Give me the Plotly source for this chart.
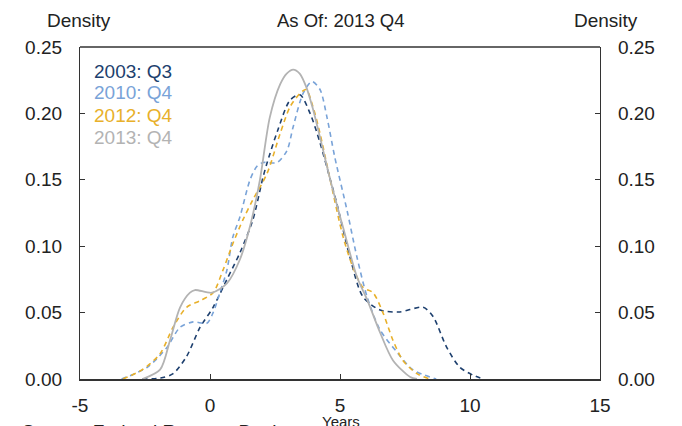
import plotly.graph_objects as go

# ---- data ----
x_2003 = [-2.6, -1.9, -1.42, -0.9, -0.38, 0.12, 0.65, 1.15, 1.65, 2.04, 2.2, 2.6, 3.08, 3.46, 3.85, 4.23, 4.6, 4.88, 5.38, 5.88, 6.54, 7.3, 8.2, 8.58, 9.1, 9.6, 10.1, 10.5]
d_2003 = [0.0, 0.0007, 0.004, 0.017, 0.039, 0.054, 0.075, 0.095, 0.12, 0.152, 0.163, 0.187, 0.21, 0.214, 0.2, 0.178, 0.152, 0.132, 0.092, 0.062, 0.052, 0.0505, 0.054, 0.047, 0.024, 0.009, 0.003, 0.0]

x_2010 = [-3.4, -2.4, -1.65, -1.15, -0.65, -0.12, 0.12, 0.38, 0.65, 0.88, 1.15, 1.54, 1.8, 2.04, 2.58, 2.96, 3.2, 3.58, 3.92, 4.23, 4.5, 4.8, 5.27, 5.65, 6.04, 6.54, 7.2, 7.8, 8.7]
d_2010 = [0.0, 0.009, 0.024, 0.039, 0.043, 0.042, 0.05, 0.065, 0.082, 0.107, 0.122, 0.15, 0.16, 0.163, 0.163, 0.172, 0.19, 0.215, 0.224, 0.218, 0.197, 0.167, 0.127, 0.092, 0.062, 0.037, 0.02, 0.007, 0.0]

x_2012 = [-3.35, -2.6, -1.92, -1.42, -0.9, -0.38, 0.12, 0.5, 0.88, 1.27, 1.65, 2.2, 2.7, 3.08, 3.46, 3.7, 3.96, 4.23, 4.6, 5.12, 5.5, 5.88, 6.27, 6.65, 7.04, 7.42, 7.96, 8.46]
d_2012 = [0.0, 0.007, 0.019, 0.039, 0.054, 0.059, 0.065, 0.082, 0.102, 0.12, 0.135, 0.155, 0.185, 0.205, 0.215, 0.218, 0.205, 0.185, 0.152, 0.107, 0.084, 0.069, 0.065, 0.05, 0.029, 0.014, 0.004, 0.0]

x_2013 = [-2.6, -1.92, -1.54, -1.15, -0.77, -0.58, 0.08, 0.65, 1.15, 1.54, 1.92, 2.3, 2.7, 2.95, 3.2, 3.45, 3.7, 3.95, 4.23, 4.6, 5.12, 5.65, 6.04, 6.54, 7.04, 7.7, 7.96]
d_2013 = [0.0, 0.007, 0.029, 0.054, 0.065, 0.067, 0.065, 0.072, 0.090, 0.115, 0.150, 0.197, 0.222, 0.230, 0.233, 0.230, 0.220, 0.204, 0.182, 0.152, 0.114, 0.077, 0.06, 0.035, 0.014, 0.0015, 0.0]

series_names = ["2003: Q3", "2010: Q4", "2012: Q4", "2013: Q4"]
series_colors = ["#1d3f6e", "#79a3d8", "#e8b02a", "#b3b3b3"]

x_ticks = [-5, 0, 5, 10, 15]
x_tick_labels = ["-5", "0", "5", "10", "15"]
y_ticks = [0.00, 0.05, 0.10, 0.15, 0.20, 0.25]
y_tick_labels = ["0.00", "0.05", "0.10", "0.15", "0.20", "0.25"]

FONT = "Liberation Sans, Arial, Helvetica, sans-serif"
FS = 19

fig = go.Figure()
all_x = [x_2003, x_2010, x_2012, x_2013]
all_d = [d_2003, d_2010, d_2012, d_2013]
for i, (xs, ds) in enumerate(zip(all_x, all_d)):
    fig.add_trace(go.Scatter(
        x=xs, y=ds, mode="lines", name=series_names[i],
        line=dict(color=series_colors[i], width=1.6 if i < 3 else 1.8,
                  dash="5px,4px" if i < 3 else "solid",
                  shape="spline", smoothing=0.8),
        hoverinfo="skip", showlegend=False,
    ))
# invisible trace for right axis
fig.add_trace(go.Scatter(x=[0], y=[0], yaxis="y2", mode="markers",
                         marker=dict(opacity=0), showlegend=False, hoverinfo="skip"))

axis_col = "#333333"
fig.update_layout(
    width=682, height=426,
    margin=dict(l=72, r=90, t=39, b=55),
    paper_bgcolor="white", plot_bgcolor="white",
    font=dict(family=FONT, size=FS, color="#222222"),
    xaxis=dict(range=[-5, 15], tickvals=x_ticks, ticktext=x_tick_labels,
               ticks="inside", ticklen=5,
               tickcolor=axis_col, showline=True, linecolor=axis_col, linewidth=2,
               showgrid=False, zeroline=False, ticklabelstandoff=8,
               tickfont=dict(size=FS)),
    yaxis=dict(range=[0, 0.25], tickvals=y_ticks, ticktext=y_tick_labels,
               ticks="inside", ticklen=5, tickcolor=axis_col,
               showline=True, linecolor=axis_col, linewidth=1.3,
               showgrid=False, zeroline=False, ticklabelstandoff=13,
               tickfont=dict(size=FS)),
    yaxis2=dict(range=[0, 0.25], tickvals=y_ticks, ticktext=y_tick_labels,
                overlaying="y", side="right", ticks="inside", ticklen=5,
                tickcolor=axis_col, showline=True, linecolor=axis_col, linewidth=1.3,
                showgrid=False, zeroline=False, ticklabelstandoff=13,
                tickfont=dict(size=FS)),
    shapes=[dict(type="line", xref="paper", yref="paper", x0=0, x1=1, y0=1, y1=1,
                 line=dict(color=axis_col, width=1.3))],
)

def py2paper(py):
    return (379 - py) / 332

def px2paper(px):
    return (px - 80) / 520

ann = []
ann.append(dict(text="As Of: 2013 Q4", xref="paper", yref="paper", x=px2paper(341),
                y=py2paper(20), yanchor="middle", showarrow=False, font=dict(size=18.5)))
ann.append(dict(text="Density", xref="paper", yref="paper", x=px2paper(45),
                y=py2paper(20), yanchor="middle", showarrow=False, font=dict(size=FS)))
ann.append(dict(text="Density", xref="paper", yref="paper", x=px2paper(640),
                y=py2paper(20), yanchor="middle", showarrow=False, font=dict(size=FS)))
ann.append(dict(text="Years", xref="paper", yref="paper", x=px2paper(341),
                y=py2paper(421), yanchor="middle", showarrow=False, font=dict(size=15)))
ann.append(dict(text="Source: Federal Reserve Bank", xref="paper", yref="paper",
                x=px2paper(20), xanchor="left", y=py2paper(431), yanchor="middle",
                showarrow=False, font=dict(size=19)))
for i, name in enumerate(series_names):
    py = 71 + 22 * i
    ann.append(dict(text=name, xref="paper", yref="paper", x=px2paper(92),
                    xanchor="left", y=py2paper(py), yanchor="middle",
                    showarrow=False, font=dict(size=FS, color=series_colors[i])))
fig.update_layout(annotations=ann)

fig.write_html("out.html")
